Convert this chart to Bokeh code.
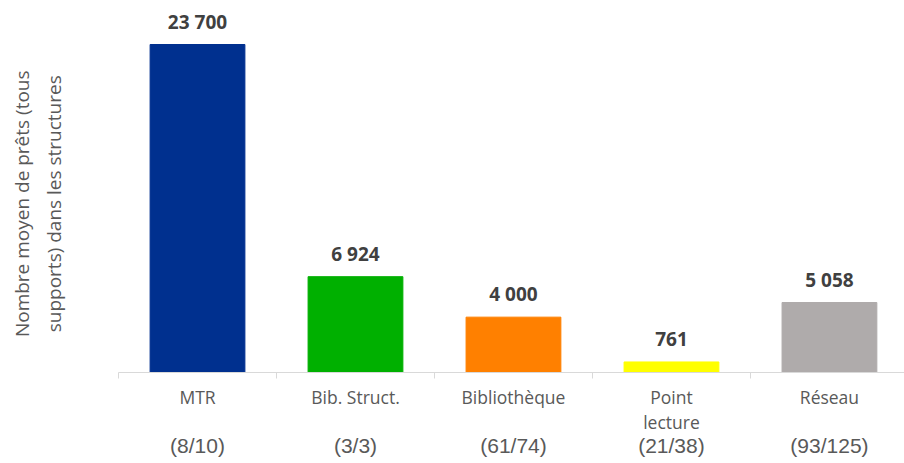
from bokeh.plotting import figure
from bokeh.models import ColumnDataSource, Range1d, FixedTicker, LinearAxis
from bokeh.core.properties import value
from bokeh.embed import file_html
from bokeh.resources import INLINE

categories = ["MTR", "Bib. Struct.", "Bibliothèque", "Point\nlecture", "Réseau"]
counts = ["(8/10)", "(3/3)", "(61/74)", "(21/38)", "(93/125)"]
values = [23700, 6924, 4000, 761, 5058]
labels = ["23 700", "6 924", "4 000", "761", "5 058"]
colors = ["#00308F", "#00B000", "#FF8000", "#FFFF00", "#AFABAB"]
y_title_lines = ["Nombre moyen de prêts (tous", "supports) dans les structures"]

xs = list(range(len(categories)))
src = ColumnDataSource(dict(x=xs, top=values, color=colors, label=labels))

p = figure(width=904, height=463, output_backend="svg", toolbar_location=None,
           x_range=Range1d(-0.5, 4.475), y_range=Range1d(0, 26880),
           min_border_left=118, min_border_right=0, min_border_top=0, min_border_bottom=91)
p.outline_line_color = None
p.xgrid.visible = False
p.ygrid.visible = False

p.vbar(x="x", top="top", width=0.6, color="color", source=src)
p.text(x="x", y="top", text="label", source=src, text_align="center", text_baseline="alphabetic",
       y_offset=-23, text_font=value("Open Sans"), text_font_style="bold",
       text_font_size="19px", text_color="#404040")

# y axis: title only (padded with no-break spaces to sit a little lower, as in the reference)
pad = "\u00a0" * 7
ya = p.yaxis[0]
ya.ticker = FixedTicker(ticks=[])
ya.axis_line_color = None
ya.major_tick_line_color = None
ya.minor_tick_line_color = None
ya.major_tick_out = 0
ya.axis_label = "\n".join(line + pad for line in y_title_lines)
ya.axis_label_text_font = "Open Sans"
ya.axis_label_text_font_size = "19px"
ya.axis_label_text_font_style = "normal"
ya.axis_label_text_color = "#595959"
ya.axis_label_standoff = 52

# x axis: line, boundary ticks, category labels
xa = p.xaxis[0]
xa.ticker = FixedTicker(ticks=xs, minor_ticks=[i - 0.5 for i in range(len(categories) + 1)])
xa.major_label_overrides = {i: c for i, c in enumerate(categories)}
xa.axis_line_color = "#D9D9D9"
xa.major_tick_line_color = None
xa.major_tick_out = 0
xa.major_tick_in = 0
xa.minor_tick_line_color = "#D9D9D9"
xa.minor_tick_out = 6
xa.minor_tick_in = 0
xa.major_label_standoff = 6
xa.major_label_text_font = "Open Sans"
xa.major_label_text_font_size = "17.5px"
xa.major_label_text_line_height = 1.05
xa.major_label_text_color = "#595959"

# second row of labels: counts
xa2 = LinearAxis(ticker=FixedTicker(ticks=xs),
                 major_label_overrides={i: c for i, c in enumerate(counts)})
xa2.axis_line_color = None
xa2.major_tick_line_color = None
xa2.minor_tick_line_color = None
xa2.major_tick_out = 0
xa2.major_label_standoff = -3
xa2.major_label_text_font = "Liberation Sans"
xa2.major_label_text_font_size = "21px"
xa2.major_label_text_color = "#595959"
p.add_layout(xa2, "below")

open("out.html", "w").write(file_html(p, INLINE))
